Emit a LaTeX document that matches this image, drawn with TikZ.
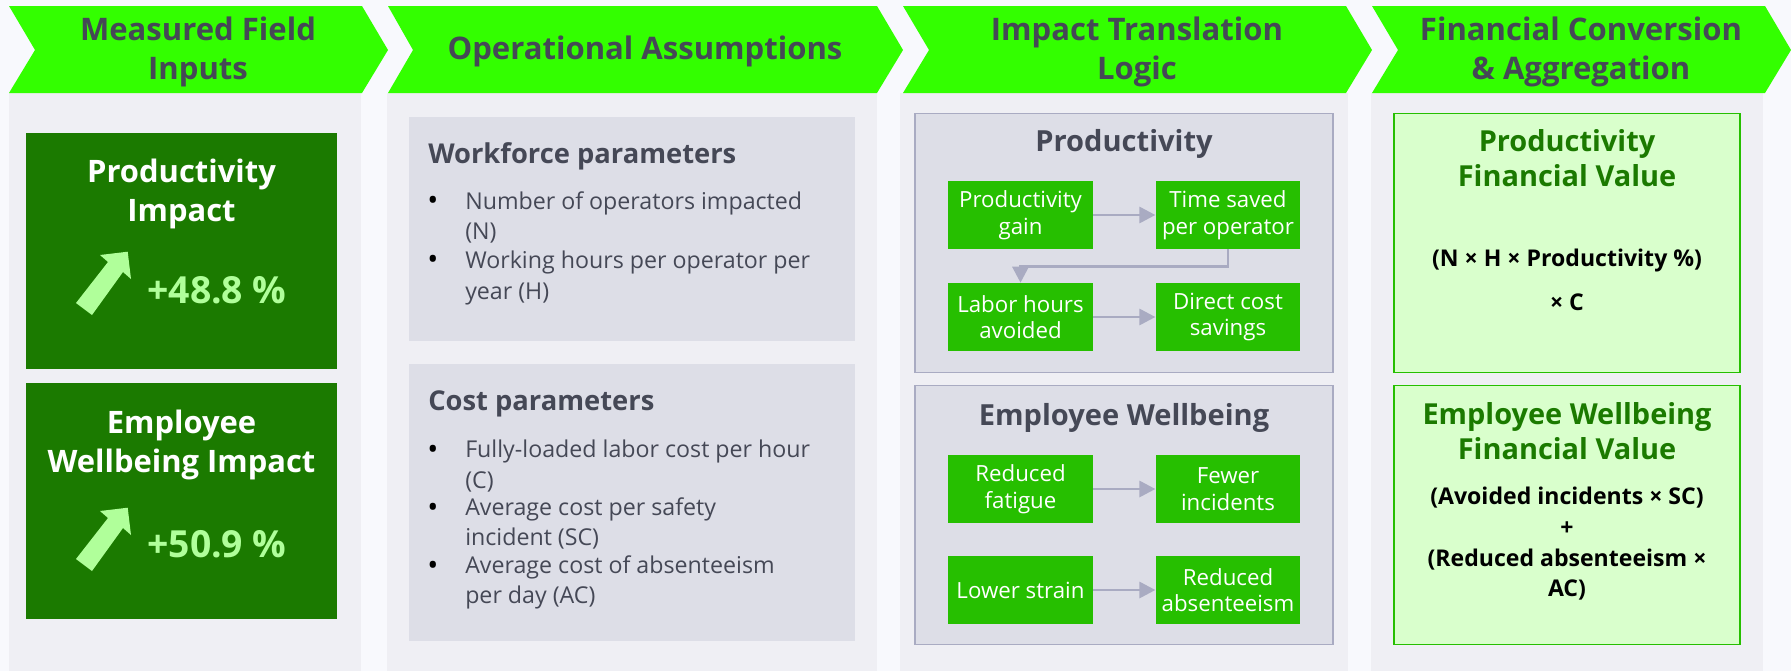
\documentclass[tikz,border=0pt]{standalone}
\usepackage{fontspec}
\setmainfont{Open Sans}
\usetikzlibrary{arrows.meta}
\definecolor{pagebg}{HTML}{F8F9FD}
\definecolor{panelbg}{HTML}{EFEFF4}
\definecolor{groupbg}{HTML}{DDDEE7}
\definecolor{groupline}{HTML}{A9ABC2}
\definecolor{headgreen}{HTML}{33FF00}
\definecolor{headtext}{HTML}{454856}
\definecolor{darkgreen}{HTML}{1B7A00}
\definecolor{stepgreen}{HTML}{26BF00}
\definecolor{palegreen}{HTML}{D9FFCC}
\definecolor{valuegreen}{HTML}{B0FF9A}
\tikzset{
  headtitle/.style={text=headtext,align=center,font=\bfseries\fontsize{23.3}{29}\selectfont},
  impactbox/.style={fill=darkgreen,minimum width=233.25pt,minimum height=177pt},
  impacttitle/.style={text=white,align=center,font=\bfseries\fontsize{23.2}{29}\selectfont},
  impactvalue/.style={text=valuegreen,font=\bfseries\fontsize{28}{32}\selectfont},
  parambox/.style={fill=groupbg,minimum width=334.5pt},
  paramtitle/.style={text=headtext,anchor=west,inner sep=0pt,font=\bfseries\fontsize{20.5}{24}\selectfont},
  paramitem/.style={text=headtext,anchor=north west,inner sep=0pt,align=left,font=\fontsize{17.4}{23}\selectfont},
  dotitem/.style={text=black,anchor=base,inner sep=0pt,font=\fontsize{22}{23}\selectfont},
  groupbox/.style={fill=groupbg,draw=groupline,line width=1.1pt,minimum width=313.5pt,minimum height=194pt},
  grouptitle/.style={text=headtext,font=\bfseries\fontsize{21.8}{26}\selectfont},
  stepbox/.style={fill=stepgreen,text=white,align=center,minimum width=108.5pt,minimum height=51pt,inner sep=0pt,font=\fontsize{16.7}{20}\selectfont},
  linkarrow/.style={draw=groupline,line width=2.2pt,-{Triangle[length=12pt,width=12pt]}},
  valuebox/.style={fill=palegreen,draw=stepgreen,line width=1.1pt,minimum width=259.5pt,minimum height=194pt},
  valuetitle/.style={text=darkgreen,align=center,font=\bfseries\fontsize{21.7}{26}\selectfont},
  formula/.style={text=black,align=center,font=\bfseries\fontsize{17.3}{33}\selectfont}
}
\begin{document}
\begin{tikzpicture}[x=0.75pt,y=0.75pt,yscale=-1]
\useasboundingbox (0,0) rectangle (1791,671);
%Shape: Background
\fill [pagebg] (0,0) rectangle (1791,671);
%Shape: Panels
\fill [panelbg] (9,93) rectangle (361,671);
\fill [panelbg] (387,93) rectangle (877,671);
\fill [panelbg] (900,93) rectangle (1348,671);
\fill [panelbg] (1371,93) rectangle (1763,671);
%Shape: Chevrons
\fill [headgreen] (9,6) -- (362,6) -- (388,50) -- (362,93) -- (9,93) -- (35,50) -- cycle ;
\fill [headgreen] (388,6) -- (877,6) -- (903,50) -- (877,93) -- (388,93) -- (413,50) -- cycle ;
\fill [headgreen] (903,6) -- (1346,6) -- (1372,50) -- (1346,93) -- (903,93) -- (929,50) -- cycle ;
\fill [headgreen] (1372,6) -- (1765,6) -- (1791,50) -- (1765,93) -- (1372,93) -- (1398,50) -- cycle ;

% Text Node
\node (headinputs) [headtitle] at (198,52) {Measured Field\\Inputs};
\node (headassume) [headtitle] at (645,51) {Operational Assumptions};
\node (headlogic) [headtitle] at (1137,52) {Impact Translation\\Logic};
\node (headfinance) [headtitle] at (1581,52) {Financial Conversion\\\& Aggregation};

%Column: field inputs
\node (prodbox) [impactbox] at (181.5,251) {};
\node (wellbox) [impactbox] at (181.5,501) {};
\node (prodtitle) [impacttitle] at (181.5,194) {Productivity\\Impact};
\node (welltitle) [impacttitle] at (181.5,445) {Employee\\Wellbeing Impact};
\fill [valuegreen] (76,303) -- (108,262) -- (100,255) -- (127.7,251.7) -- (131,279) -- (123,272) -- (92,315) -- cycle ;
\fill [valuegreen, shift={(0,256)}] (76,303) -- (108,262) -- (100,255) -- (127.7,251.7) -- (131,279) -- (123,272) -- (92,315) -- cycle ;
\node (prodvalue) [impactvalue] at (217,290) {+48.8 \%};
\node (wellvalue) [impactvalue] at (217,544) {+50.9 \%};

%Column: assumptions
\node (workbox) [parambox,minimum height=168pt] at (632,229) {};
\node (costbox) [parambox,minimum height=208pt] at (632,502.5) {};
\node (worktitle) [paramtitle] at (428,156) {Workforce parameters};
\node (costtitle) [paramtitle] at (428,404) {Cost parameters};
\node (workdota) [dotitem] at (433,210) {•};
\node (workdotb) [dotitem] at (433,269) {•};
\node (costdota) [dotitem] at (433,459) {•};
\node (costdotb) [dotitem] at (433,517) {•};
\node (costdotc) [dotitem] at (433,575) {•};
\node (workitema) [paramitem] at (465,191) {Number of operators impacted\\(N)};
\node (workitemb) [paramitem] at (465,251) {Working hours per operator per\\year (H)};
\node (costitema) [paramitem] at (465,440) {Fully-loaded labor cost per hour\\(C)};
\node (costitemb) [paramitem] at (465,497) {Average cost per safety\\incident (SC)};
\node (costitemc) [paramitem] at (465,555) {Average cost of absenteeism\\per day (AC)};

%Column: translation logic
\node (prodgroup) [groupbox] at (1124,243) {};
\node (wellgroup) [groupbox] at (1124,515) {};
\node (prodhead) [grouptitle] at (1124,144) {Productivity};
\node (wellhead) [grouptitle] at (1124,418) {Employee Wellbeing};
\node (gain) [stepbox] at (1020.5,215) {Productivity\\gain};
\node (timesaved) [stepbox] at (1228,215) {Time saved\\per operator};
\node (laborhours) [stepbox] at (1020.5,317) {Labor hours\\avoided};
\node (savings) [stepbox] at (1228,317) {Direct cost\\savings};
\node (fatigue) [stepbox] at (1020.5,489) {Reduced\\fatigue};
\node (incidents) [stepbox] at (1228,489) {Fewer\\incidents};
\node (strain) [stepbox] at (1020.5,590) {Lower strain};
\node (absent) [stepbox] at (1228,590) {Reduced\\absenteeism};
\draw [linkarrow] (gain) -- (timesaved);
\draw [linkarrow] (timesaved.south) -- ++(0,17) -| (laborhours.north);
\draw [linkarrow] (laborhours) -- (savings);
\draw [linkarrow] (fatigue) -- (incidents);
\draw [linkarrow] (strain) -- (absent);

%Column: financial value
\node (prodvaluebox) [valuebox] at (1567,243) {};
\node (wellvaluebox) [valuebox] at (1567,515) {};
\node (prodvaluetitle) [valuetitle] at (1567,158) {Productivity\\Financial Value};
\node (wellvaluetitle) [valuetitle] at (1567,431) {Employee Wellbeing\\Financial Value};
\node (prodformula) [formula] at (1567,280) {(N × H × Productivity \%)\\× C};
\node (wellformula) [formula,font=\bfseries\fontsize{17.3}{23}\selectfont] at (1567,544) {(Avoided incidents × SC)\\+\\(Reduced absenteeism ×\\AC)};

\end{tikzpicture}
\end{document}
